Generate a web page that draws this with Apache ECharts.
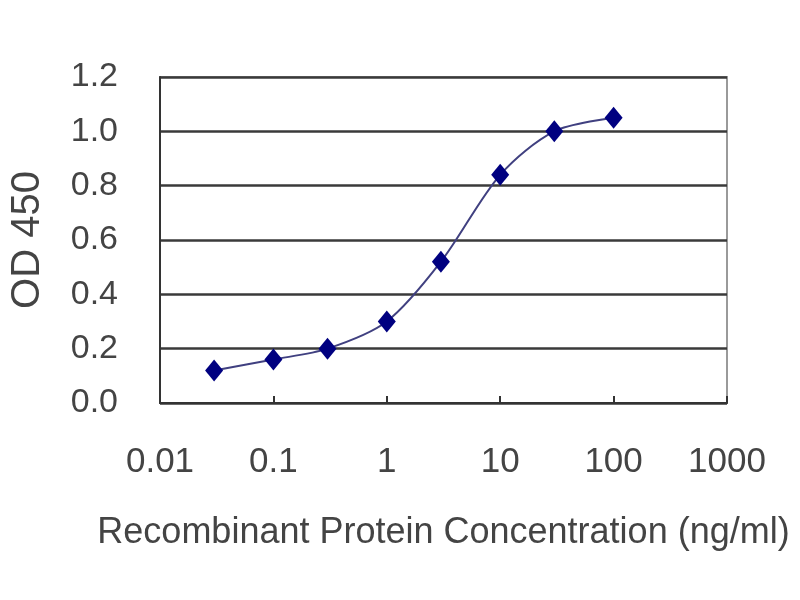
<!DOCTYPE html>
<html>
<head>
<meta charset="utf-8">
<script src="https://cdn.jsdelivr.net/npm/echarts@6/dist/echarts.min.js"></script>
<style>
    html, body { margin: 0; padding: 0; background: #fff; }
    #chart { width: 800px; height: 600px; }
</style>
</head>
<body>
<div id="chart"></div>
<script>
// concentration (ng/ml) and measured OD 450
var concentrations = [0.03, 0.1, 0.3, 1, 3, 10, 30, 100];
var odValues = [0.12, 0.16, 0.20, 0.30, 0.52, 0.84, 1.00, 1.05];
var yTicks = [0, 0.2, 0.4, 0.6, 0.8, 1.0, 1.2];

var chart = echarts.init(document.getElementById('chart'));

var points = concentrations.map(function (c, i) {
    return [c, odValues[i]];
});

var labelFont = 'Liberation Sans, Arial, sans-serif';

var option = {
    animation: false,
    backgroundColor: '#fff',
    grid: {
        left: 159,
        right: 73,
        top: 77,
        bottom: 197,
        show: true,
        borderColor: '#9a9a9a',
        borderWidth: 2
    },
    xAxis: {
        type: 'log',
        logBase: 10,
        min: 0.01,
        max: 1000,
        name: 'Recombinant Protein Concentration (ng/ml)',
        nameLocation: 'middle',
        nameGap: 112,
        nameTextStyle: { fontFamily: labelFont, fontSize: 36, color: '#444' },
        axisLine: { show: true, lineStyle: { color: '#333', width: 2 } },
        axisTick: { show: true, inside: true, length: 7, lineStyle: { color: '#333', width: 2 } },
        splitLine: { show: false },
        minorTick: { show: false },
        axisLabel: {
            fontFamily: labelFont,
            fontSize: 35,
            color: '#444',
            margin: 42,
            formatter: function (v) { return String(+v.toPrecision(6)); }
        }
    },
    yAxis: {
        type: 'value',
        min: yTicks[0],
        max: yTicks[yTicks.length - 1],
        interval: 0.2,
        name: 'OD 450',
        nameLocation: 'middle',
        nameGap: 112,
        nameTextStyle: { fontFamily: labelFont, fontSize: 40, color: '#444' },
        axisLine: { show: true, lineStyle: { color: '#333', width: 2 } },
        axisTick: { show: false },
        splitLine: { show: true, lineStyle: { color: '#3a3a3a', width: 2.5 } },
        axisLabel: {
            fontFamily: labelFont,
            fontSize: 34,
            color: '#444',
            margin: 42,
            formatter: function (v) { return v.toFixed(1); }
        }
    },
    series: [{
        type: 'line',
        data: points,
        smooth: 0.3,
        symbol: 'diamond',
        symbolSize: [18, 22],
        itemStyle: { color: '#000080' },
        lineStyle: { color: '#404080', width: 2 }
    }]
};

chart.setOption(option);
</script>
</body>
</html>
